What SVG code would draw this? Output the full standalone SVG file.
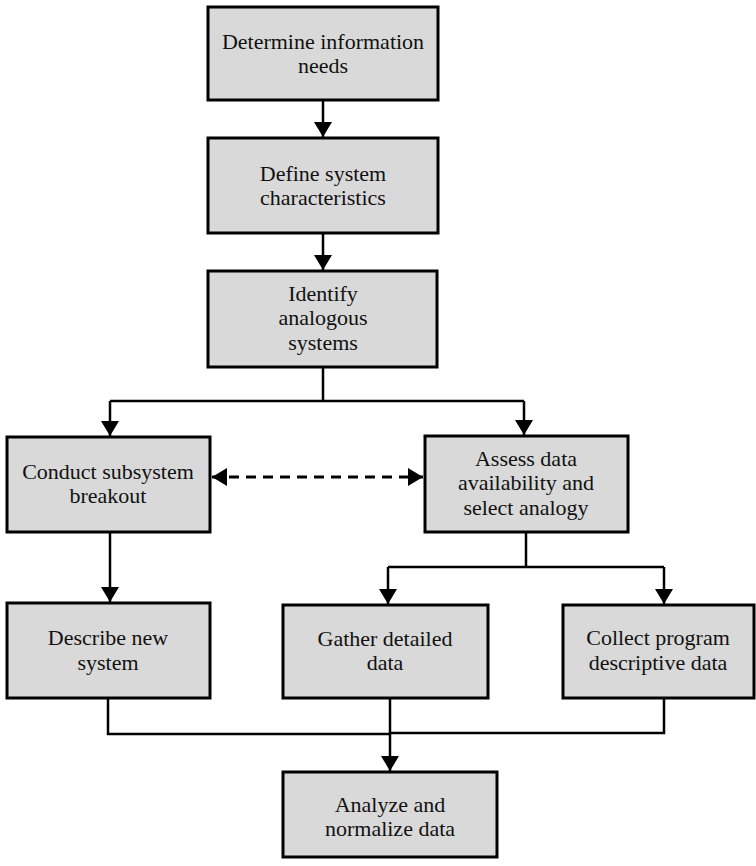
<svg xmlns="http://www.w3.org/2000/svg" width="756" height="866" viewBox="0 0 756 866">
<style>
.box{fill:#d9d9d9;stroke:#000;stroke-width:3}
.t{font-family:"Liberation Serif","Times New Roman",serif;font-size:22px;fill:#111;text-anchor:middle}
.c{fill:none;stroke:#000;stroke-width:2.5}
.d{fill:none;stroke:#000;stroke-width:3;stroke-dasharray:10,7}
</style>
<defs>
<marker id="ah" markerUnits="userSpaceOnUse" markerWidth="16" markerHeight="18" refX="15" refY="9" orient="auto">
<path d="M0,0 L15,9 L0,18 z" fill="#000"/>
</marker>
<marker id="ahs" markerUnits="userSpaceOnUse" markerWidth="16" markerHeight="18" refX="15" refY="9" orient="auto-start-reverse">
<path d="M0,0 L15,9 L0,18 z" fill="#000"/>
</marker>
</defs>
<rect width="756" height="866" fill="#fff"/>
<g id="connectors">
<line class="c" x1="323" y1="100" x2="323" y2="137" marker-end="url(#ah)"/>
<line class="c" x1="323" y1="233" x2="323" y2="270" marker-end="url(#ah)"/>
<polyline class="c" points="323,367 323,401"/>
<polyline class="c" points="110,401 524,401"/>
<line class="c" x1="110" y1="401" x2="110" y2="436" marker-end="url(#ah)"/>
<line class="c" x1="524" y1="401" x2="524" y2="435" marker-end="url(#ah)"/>
<line class="d" x1="212" y1="477" x2="423" y2="477" marker-start="url(#ahs)" marker-end="url(#ahs)"/>
<line class="c" x1="110" y1="532" x2="110" y2="602" marker-end="url(#ah)"/>
<polyline class="c" points="526,532 526,567"/>
<polyline class="c" points="388,567 664,567"/>
<line class="c" x1="388" y1="567" x2="388" y2="604" marker-end="url(#ah)"/>
<line class="c" x1="664" y1="567" x2="664" y2="604" marker-end="url(#ah)"/>
<polyline class="c" points="108,698 108,734 390,734"/>
<polyline class="c" points="664,698 664,733 390,733"/>
<line class="c" x1="390" y1="698" x2="390" y2="771" marker-end="url(#ah)"/>
</g>
<g id="n1"><rect class="box" x="208" y="7" width="230" height="93"/>
<text class="t" x="323" y="49">Determine information</text><text class="t" x="323" y="73">needs</text></g>
<g id="n2"><rect class="box" x="208" y="138" width="230" height="95"/>
<text class="t" x="323" y="181">Define system</text><text class="t" x="323" y="205">characteristics</text></g>
<g id="n3"><rect class="box" x="208" y="271" width="229" height="96"/>
<text class="t" x="323" y="301">Identify</text><text class="t" x="323" y="325">analogous</text><text class="t" x="323" y="350">systems</text></g>
<g id="n4"><rect class="box" x="7" y="437" width="203" height="95"/>
<text class="t" x="108" y="479">Conduct subsystem</text><text class="t" x="108" y="503">breakout</text></g>
<g id="n5"><rect class="box" x="425" y="436" width="203" height="96"/>
<text class="t" x="526" y="466">Assess data</text><text class="t" x="526" y="490">availability and</text><text class="t" x="526" y="515">select analogy</text></g>
<g id="n6"><rect class="box" x="7" y="603" width="203" height="95"/>
<text class="t" x="108" y="645">Describe new</text><text class="t" x="108" y="670">system</text></g>
<g id="n7"><rect class="box" x="283" y="605" width="205" height="93"/>
<text class="t" x="385" y="646">Gather detailed</text><text class="t" x="385" y="670">data</text></g>
<g id="n8"><rect class="box" x="563" y="605" width="191" height="93"/>
<text class="t" x="658" y="645">Collect program</text><text class="t" x="658" y="670">descriptive data</text></g>
<g id="n9"><rect class="box" x="283" y="772" width="214" height="85"/>
<text class="t" x="390" y="812">Analyze and</text><text class="t" x="390" y="836">normalize data</text></g>
</svg>
